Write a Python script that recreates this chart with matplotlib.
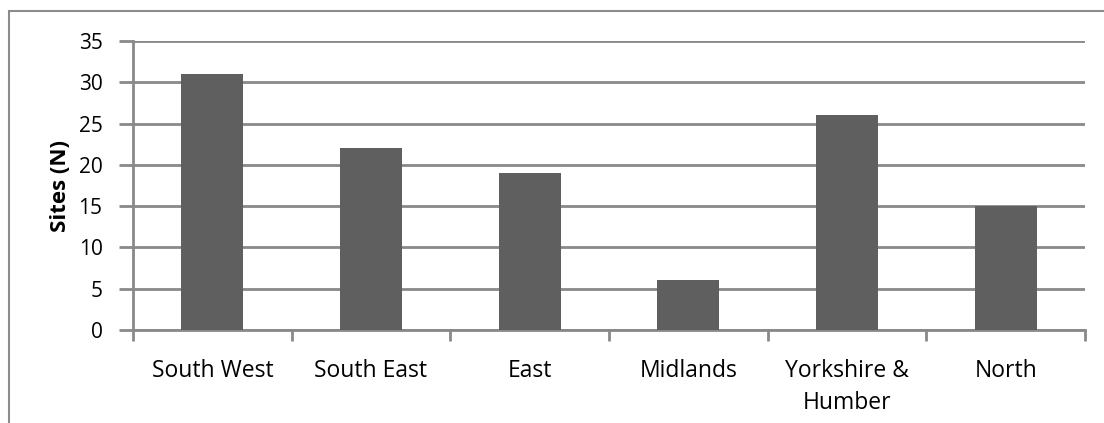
import matplotlib
matplotlib.use('Agg')
import matplotlib.pyplot as plt
from matplotlib.patches import Rectangle

# sites per region
regions = ['South West', 'South East', 'East', 'Midlands', 'Yorkshire &\nHumber', 'North']
sites = [31, 22, 19, 6, 26, 15]
yticks = [0, 5, 10, 15, 20, 25, 30, 35]

plt.rcParams['font.family'] = ['Open Sans', 'DejaVu Sans']

fig = plt.figure(figsize=(11.04, 4.23), dpi=100)
ax = fig.add_axes([133/1104, 1 - 330/423, (1085 - 133)/1104, (330 - 41)/423])

grid_col = '#898989'
x = range(len(regions))
ax.bar(x, sites, width=0.39, color='#5f5f5f', zorder=3)

ax.set_xlim(-0.5, len(regions) - 0.5)
ax.set_ylim(0, 35)
ax.set_yticks(yticks)
ax.set_yticklabels([str(v) for v in yticks], fontsize=15)

# category labels centred, tick marks at the category boundaries
ax.set_xticks(list(x))
ax.set_xticklabels(regions, fontsize=16.5, linespacing=1.42, va='top')
ax.tick_params(axis='x', length=0, pad=21)
ax.set_xticks([i - 0.5 for i in range(len(regions) + 1)], minor=True)
ax.tick_params(axis='x', which='minor', length=8, width=2, color=grid_col)
ax.tick_params(axis='y', length=10, width=2, color=grid_col, pad=12)

ax.yaxis.grid(True, color=grid_col, linewidth=2)
ax.set_axisbelow(True)
for s in ['top', 'right']:
    ax.spines[s].set_visible(False)
ax.spines['left'].set_color(grid_col)
ax.spines['left'].set_linewidth(2)
ax.spines['bottom'].set_color(grid_col)
ax.spines['bottom'].set_linewidth(2)

ax.set_ylabel('Sites (N)', fontsize=16, fontweight='bold', labelpad=5)

# outer chart frame
fig.add_artist(Rectangle((9/1104, -0.1), 1.2, 1 - 11/423 + 0.1, transform=fig.transFigure,
                         fill=False, edgecolor='#8c8c8c', linewidth=1.5))

fig.savefig('out.png', dpi=100)
